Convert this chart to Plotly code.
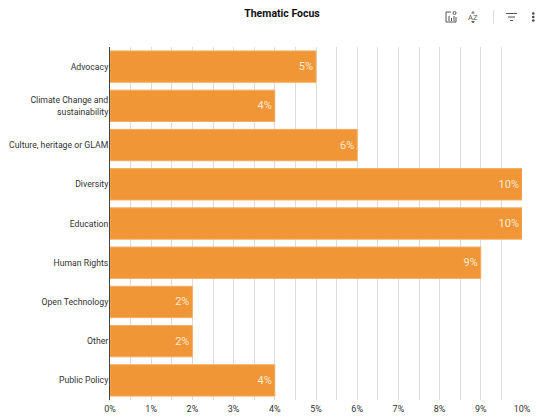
import plotly.graph_objects as go

categories = ["Advocacy", "Climate Change and<br>sustainability", "Culture, heritage or GLAM",
              "Diversity", "Education", "Human Rights", "Open Technology", "Other", "Public Policy"]
values = [5, 4, 6, 10, 10, 9, 2, 2, 4]
labels = ["5%", "4%", "6%", "10%", "10%", "9%", "2%", "2%", "4%"]
tick_vals = list(range(11))
tick_text = [f"{v}%" for v in tick_vals]

W, H = 537, 419
L, R, T, B = 110, 522, 47, 400

fig = go.Figure(go.Bar(
    y=categories, x=values, orientation="h",
    marker=dict(color="#F09636", line=dict(color="#F4AE63", width=1)),
    text=labels, textposition="inside", insidetextanchor="end",
    textangle=0, textfont=dict(color="#FBE9D5", size=11, family="Roboto"),
    cliponaxis=False, hoverinfo="skip",
))

def px(x):
    return (x - L) / (R - L)
def py(y):
    return 1 - (y - T) / (B - T)

shapes = []
def line(x0, y0, x1, y1, color="#555555", width=1):
    shapes.append(dict(type="line", xref="paper", yref="paper",
                       x0=px(x0), x1=px(x1), y0=py(y0), y1=py(y1),
                       line=dict(color=color, width=width)))

# toolbar icons (page pixels)
line(446, 12, 446, 22); line(446, 22, 456, 22); line(456, 17, 456, 22)
line(449, 16, 449, 21); line(451.5, 18, 451.5, 21); line(454, 16, 454, 21)
line(446, 12, 451, 12)
shapes.append(dict(type="circle", xref="paper", yref="paper",
                   x0=px(453), x1=px(456), y0=py(14.5), y1=py(11.5),
                   line=dict(color="#555555", width=1)))
line(471.5, 13, 474.5, 13); line(472.2, 12, 473.8, 12)
line(471.5, 21.5, 474.5, 21.5); line(472.2, 22.5, 473.8, 22.5)
line(493.5, 10, 493.5, 24, "#DDDDDD", 1)
line(506, 13.5, 517, 13.5); line(508, 17, 515, 17); line(510, 20.5, 513, 20.5)
for cy in (13.5, 17, 20.5):
    shapes.append(dict(type="circle", xref="paper", yref="paper",
                       x0=px(532), x1=px(534.5), y0=py(cy + 1.2), y1=py(cy - 1.2),
                       fillcolor="#444444", line=dict(width=0)))

fig.update_layout(
    width=W, height=H, autosize=False,
    paper_bgcolor="white", plot_bgcolor="white",
    margin=dict(l=L, r=W - R, t=T, b=H - B, autoexpand=False),
    font=dict(family="Roboto", size=8.7, color="#333333"),
    bargap=0.2, showlegend=False, shapes=shapes,
    title=dict(text="<b>Thematic Focus</b>", x=282 / W, xanchor="center",
               y=1 - 13 / H, yanchor="middle", automargin=False,
               font=dict(family="Roboto", size=10.5, color="#111111")),
    annotations=[dict(text="A", xref="paper", yref="paper", x=px(470.5), y=py(17.3), showarrow=False,
                      xanchor="center", yanchor="middle",
                      font=dict(size=7.5, color="#555555", family="Roboto")),
                 dict(text="Z", xref="paper", yref="paper", x=px(475.5), y=py(17.3), showarrow=False,
                      xanchor="center", yanchor="middle",
                      font=dict(size=7.5, color="#555555", family="Roboto"))],
    xaxis=dict(range=[0, 10], tickvals=tick_vals, ticktext=tick_text, side="bottom",
               showgrid=True, gridcolor="#DCDCDC", gridwidth=1,
               minor=dict(dtick=0.5, tick0=0, showgrid=True, gridcolor="#DCDCDC", gridwidth=1),
               zeroline=False, showline=False, ticks="", ticklen=0, automargin=False,
               ticklabelstandoff=2, tickfont=dict(size=9, color="#333333")),
    yaxis=dict(autorange="reversed", showgrid=False, zeroline=False, automargin=False,
               showline=True, linecolor="#444444", linewidth=1, ticks="", ticklen=0,
               ticklabelstandoff=-1, tickfont=dict(size=8.7, color="#333333")),
)
fig.write_html("out.html", post_script="document.body.style.margin='0';",
               config=dict(displayModeBar=False))
